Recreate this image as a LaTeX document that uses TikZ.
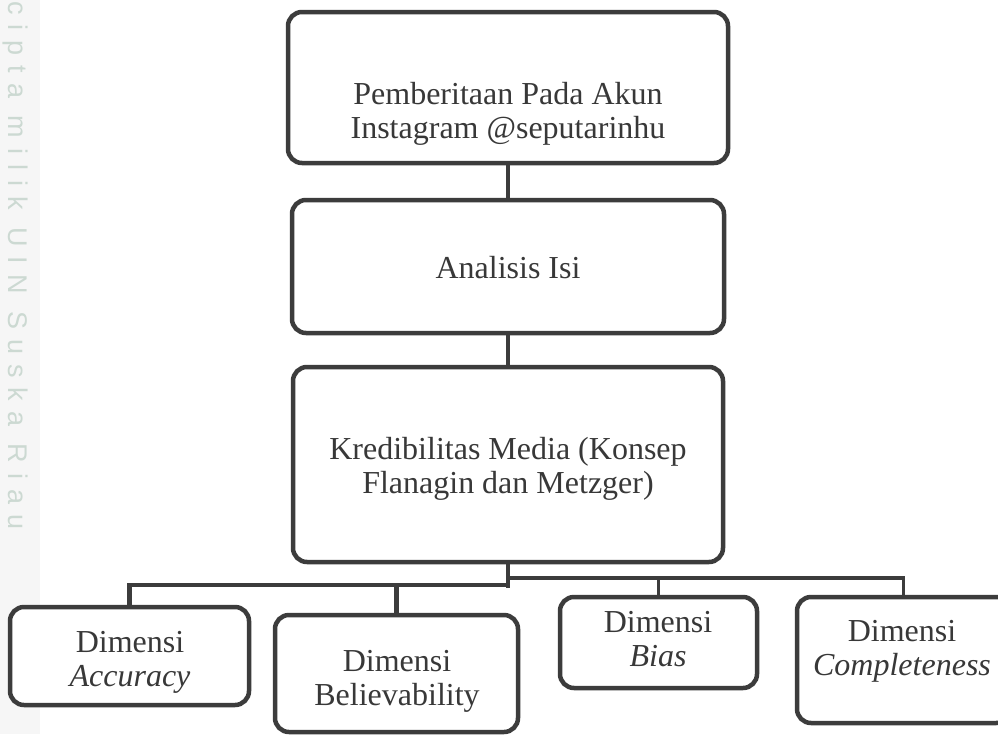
\documentclass[tikz,border=0pt]{standalone}
\usepackage{fontspec}
\setmainfont{Liberation Serif}
\newfontfamily\wmfont[LetterSpace=37]{Liberation Sans}
\definecolor{ln}{HTML}{3C3C3C}
\definecolor{tx}{HTML}{383838}
\definecolor{wm}{HTML}{CCD9D2}
\definecolor{strip}{HTML}{F6F6F6}
\begin{document}
\begin{tikzpicture}[x=1pt,y=-1pt,
  box/.style={draw=ln, line width=4.5pt, rounded corners=14pt, fill=white, inner sep=0pt},
  lbl/.style={text=tx, font=\fontsize{32}{34}\selectfont, align=center, inner sep=0pt},
  wire/.style={draw=ln, line width=4.5pt},
  thinwire/.style={draw=ln, line width=3.5pt}]
\useasboundingbox (0,0) rectangle (998,734);
\fill[white] (0,0) rectangle (998,734);
\fill[strip] (0,0) rectangle (40,734);
\node[rotate=-90, text=wm, font=\wmfont\fontsize{27}{27}\selectfont, anchor=west, inner sep=0pt] (wmk) at (15,1) {cipta milik UIN Suska Riau};

% boxes
\node[box, minimum width=440pt, minimum height=151pt] (b1) at (508,87.5) {};
\node[box, minimum width=432pt, minimum height=133pt] (b2) at (508,266.5) {};
\node[box, minimum width=430pt, minimum height=195pt] (b3) at (508,464.5) {};
\node[box, minimum width=239pt, minimum height=98pt] (bA) at (129.5,656) {};
\node[box, minimum width=243pt, minimum height=117pt] (bB) at (396.5,673.5) {};
\node[box, minimum width=197pt, minimum height=91pt] (bC) at (658.5,642.5) {};
\node[box, minimum width=213pt, minimum height=126pt] (bD) at (903.5,660) {};

% texts
\node[lbl] (t1) at (508,114) {Pemberitaan Pada Akun\\Instagram @seputarinhu};
\node[lbl] (t2) at (508,268) {Analisis Isi};
\node[lbl] (t3) at (508,469) {Kredibilitas Media (Konsep\\Flanagin dan Metzger)};
\node[lbl] (tA) at (130,662) {Dimensi\\\textit{Accuracy}};
\node[lbl] (tB) at (397,681) {Dimensi\\Believability};
\node[lbl] (tC) at (658,639) {Dimensi\\\textit{Bias}};
\node[lbl] (tD) at (902,651) {Dimensi\\\textit{Completeness}};

% connectors
\coordinate (jl) at (508,585);
\coordinate (jr) at (508,578);
\coordinate (js) at (508,588);
\draw[wire] (b1.south) -- (b2.north);
\draw[wire] (b2.south) -- (b3.north);
\draw[wire] (b3.south) -- (js);
\draw[wire] (bA.north) |- (jl);
\draw[wire] (bB.north) -- (bB.north |- jl);
\draw[thinwire] (jr) -| (bD.north);
\draw[thinwire] (bC.north) -- (bC.north |- jr);
\end{tikzpicture}
\end{document}
